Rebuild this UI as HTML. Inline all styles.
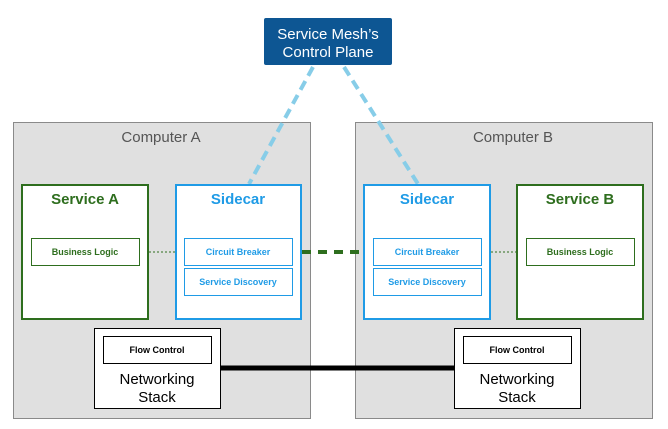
<!DOCTYPE html>
<html><head><meta charset="utf-8"><style>
html,body{margin:0;padding:0;background:#fff;width:668px;height:429px;overflow:hidden}
text{font-family:"Liberation Sans","Noto Sans CJK SC",sans-serif}
</style></head><body>
<svg width="668" height="429" viewBox="0 0 668 429" xmlns="http://www.w3.org/2000/svg">
<rect x="13.5" y="122.5" width="297" height="296" fill="#e0e0e0" stroke="#8a8a8a" stroke-width="1"/>
<rect x="355.5" y="122.5" width="297" height="296" fill="#e0e0e0" stroke="#8a8a8a" stroke-width="1"/>
<text x="161" y="142" font-size="15" fill="#555" text-anchor="middle">Computer A</text>
<text x="513" y="142" font-size="15" fill="#555" text-anchor="middle">Computer B</text>
<line x1="313" y1="67" x2="249" y2="184" stroke="#87cde8" stroke-width="4" stroke-dasharray="10,6"/>
<line x1="344" y1="67" x2="418" y2="184" stroke="#87cde8" stroke-width="4" stroke-dasharray="10,6"/>
<rect x="264" y="18" width="128" height="47" rx="2" fill="#0d5693"/>
<text x="328" y="39" font-size="15" fill="#fff" text-anchor="middle">Service Mesh’s</text>
<text x="328" y="57" font-size="15" fill="#fff" text-anchor="middle">Control Plane</text>
<g fill="#fff" stroke-width="2">
<rect x="22" y="185" width="126" height="134" stroke="#2e6e1e"/>
<rect x="176" y="185" width="125" height="134" stroke="#1f9be6"/>
<rect x="364" y="185" width="126" height="134" stroke="#1f9be6"/>
<rect x="517" y="185" width="126" height="134" stroke="#2e6e1e"/>
</g>
<text x="85" y="204" font-size="15" font-weight="bold" fill="#2e6e1e" text-anchor="middle">Service A</text>
<text x="238" y="204" font-size="15" font-weight="bold" fill="#1f9be6" text-anchor="middle">Sidecar</text>
<text x="427" y="204" font-size="15" font-weight="bold" fill="#1f9be6" text-anchor="middle">Sidecar</text>
<text x="580" y="204" font-size="15" font-weight="bold" fill="#2e6e1e" text-anchor="middle">Service B</text>
<g fill="#fff" stroke-width="1">
<rect x="31.5" y="238.5" width="108" height="27" stroke="#2e6e1e"/>
<rect x="184.5" y="238.5" width="108" height="27" stroke="#1f9be6"/>
<rect x="184.5" y="268.5" width="108" height="27" stroke="#1f9be6"/>
<rect x="373.5" y="238.5" width="108" height="27" stroke="#1f9be6"/>
<rect x="373.5" y="268.5" width="108" height="27" stroke="#1f9be6"/>
<rect x="526.5" y="238.5" width="108" height="27" stroke="#2e6e1e"/>
</g>
<g font-size="9" font-weight="bold" text-anchor="middle">
<text x="85" y="255" fill="#2e6e1e">Business Logic</text>
<text x="238" y="255" fill="#1f9be6">Circuit Breaker</text>
<text x="238" y="285" fill="#1f9be6">Service Discovery</text>
<text x="427" y="255" fill="#1f9be6">Circuit Breaker</text>
<text x="427" y="285" fill="#1f9be6">Service Discovery</text>
<text x="580" y="255" fill="#2e6e1e">Business Logic</text>
</g>
<line x1="149" y1="252" x2="175" y2="252" stroke="#2e6e1e" stroke-width="1" stroke-dasharray="2,2"/>
<line x1="491" y1="252" x2="516" y2="252" stroke="#2e6e1e" stroke-width="1" stroke-dasharray="2,2"/>
<line x1="302" y1="252" x2="363" y2="252" stroke="#2e6e1e" stroke-width="4" stroke-dasharray="9,7"/>
<line x1="220" y1="368" x2="455" y2="368" stroke="#000" stroke-width="5"/>
<g fill="#fff" stroke="#000" stroke-width="1">
<rect x="94.5" y="328.5" width="126" height="80"/>
<rect x="103.5" y="336.5" width="108" height="27"/>
<rect x="454.5" y="328.5" width="126" height="80"/>
<rect x="463.5" y="336.5" width="108" height="27"/>
</g>
<g text-anchor="middle" fill="#000">
<text x="157" y="353" font-size="9" font-weight="bold">Flow Control</text>
<text x="157" y="384" font-size="15">Networking</text>
<text x="157" y="402" font-size="15">Stack</text>
<text x="517" y="353" font-size="9" font-weight="bold">Flow Control</text>
<text x="517" y="384" font-size="15">Networking</text>
<text x="517" y="402" font-size="15">Stack</text>
</g>
</svg>
</body></html>
